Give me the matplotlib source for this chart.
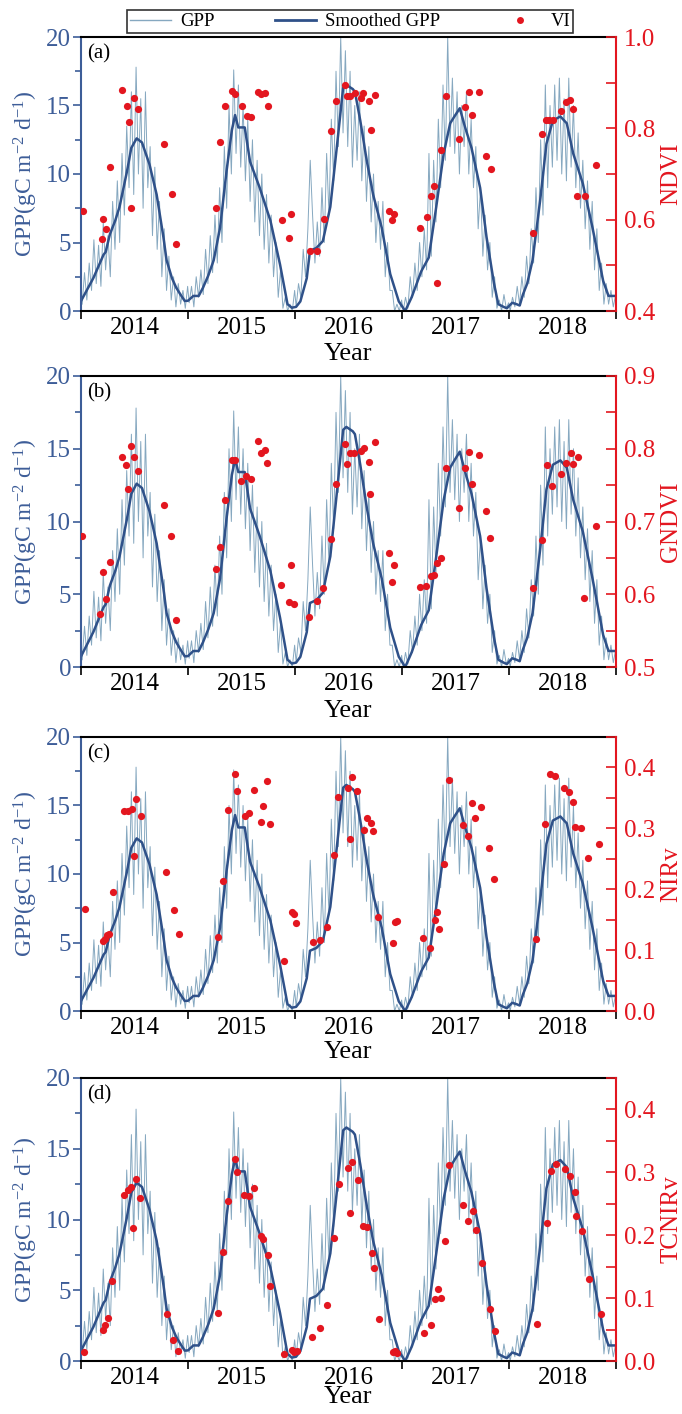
import numpy as np
import matplotlib
matplotlib.use('Agg')
import matplotlib.pyplot as plt
from matplotlib.ticker import MultipleLocator, FormatStrFormatter
from matplotlib.lines import Line2D

plt.rcParams['font.family'] = ['Liberation Serif', 'DejaVu Serif']
plt.rcParams['mathtext.fontset'] = 'custom'
plt.rcParams['mathtext.rm'] = 'Liberation Serif'
plt.rcParams['mathtext.it'] = 'Liberation Serif:italic'

# ---------------- data ----------------
years = [2014, 2015, 2016, 2017, 2018]
year_labels = ['2014', '2015', '2016', '2017', '2018']

# raw GPP, 8-day steps, 46 values per year
gpp_raw_2014 = [0.5, 2.8, 0.8, 3.5, 1.5, 5.2, 2.0, 4.8, 1.8, 6.5, 3.0,
                5.5, 2.5, 8.0, 4.5, 9.5, 5.0, 11.5, 7.0, 13.5, 9.0,
                16.0, 8.5, 17.8, 10.0, 15.5, 7.5, 16.0, 9.0, 12.0, 5.5,
                10.5, 4.5, 8.0, 2.5, 6.0, 1.5, 4.0, 0.8, 2.5, 0.3,
                2.0, 0.5, 1.5, 0.2, 1.8]
gpp_raw_2015 = [0.6, 1.8, 0.3, 2.5, 1.0, 3.0, 1.2, 4.5, 2.0, 5.5, 2.8,
                7.0, 3.5, 9.0, 5.0, 12.0, 7.5, 15.0, 10.0, 17.6, 11.5,
                16.5, 10.5, 15.0, 9.5, 14.0, 8.0, 12.5, 6.5, 11.0, 5.5,
                10.0, 4.5, 8.5, 3.5, 7.0, 2.5, 5.0, 1.0, 3.0, 0.2,
                1.0, 0.0, 0.5, 0.0, 1.5]
gpp_raw_2016 = [0.3, 2.0, 1.0, 4.5, 2.5, 6.0, 11.0, 7.0, 3.5, 6.5, 4.0,
                9.0, 5.0, 11.5, 7.0, 14.0, 9.5, 17.5, 12.0, 20.0, 13.0,
                19.0, 12.0, 17.5, 10.5, 15.0, 11.0, 16.0, 9.5, 13.5, 8.0,
                12.0, 6.5, 10.0, 5.0, 8.0, 4.5, 8.0, 2.5, 5.0, 1.5,
                1.5, 0.0, 0.5, 0.0, 0.8]
gpp_raw_2017 = [0.0, 1.0, 0.2, 2.5, 1.0, 3.5, 1.5, 5.0, 2.5, 6.0, 3.0,
                11.5, 4.0, 11.0, 6.5, 14.0, 9.0, 16.5, 11.0, 20.0, 12.0,
                17.0, 11.5, 16.0, 10.0, 15.0, 12.0, 16.0, 10.0, 14.0, 9.0,
                12.0, 6.0, 9.0, 4.0, 7.0, 3.0, 5.0, 1.0, 2.5, 0.2,
                0.8, 0.0, 1.2, 0.2, 0.6]
gpp_raw_2018 = [0.0, 1.0, 0.3, 1.8, 0.5, 2.5, 1.0, 4.0, 2.0, 6.0, 3.5,
                9.0, 5.0, 12.5, 7.0, 16.5, 9.0, 15.0, 10.5, 16.5, 11.0,
                17.0, 10.0, 15.5, 9.5, 17.0, 10.5, 15.0, 9.0, 13.0, 7.5,
                11.0, 6.0, 9.5, 4.5, 8.0, 3.0, 6.0, 1.5, 3.5, 0.5,
                2.0, 0.5, 1.5, 0.3, 1.2]
gpp_raw_by_year = [gpp_raw_2014, gpp_raw_2015, gpp_raw_2016, gpp_raw_2017, gpp_raw_2018]

# smoothed GPP (decimal year, value)
smooth_t = [2014.00, 2014.06, 2014.115, 2014.16, 2014.21, 2014.23, 2014.27, 2014.32, 2014.36,
            2014.43, 2014.47, 2014.52, 2014.57, 2014.64, 2014.707, 2014.77, 2014.80, 2014.85,
            2014.89, 2014.93, 2014.97, 2015.00, 2015.05, 2015.10, 2015.14, 2015.19, 2015.24,
            2015.30, 2015.36, 2015.41, 2015.44, 2015.47, 2015.53, 2015.58, 2015.67, 2015.77,
            2015.86, 2015.93, 2015.97, 2016.01, 2016.05, 2016.11, 2016.14, 2016.20, 2016.26,
            2016.33, 2016.39, 2016.45, 2016.48, 2016.54, 2016.56, 2016.61, 2016.67, 2016.73,
            2016.81, 2016.89, 2016.97, 2017.03, 2017.09, 2017.18, 2017.25, 2017.32, 2017.39,
            2017.45, 2017.49, 2017.54, 2017.59, 2017.65, 2017.73, 2017.79, 2017.86, 2017.90,
            2017.95, 2017.98, 2018.03, 2018.07, 2018.10, 2018.13, 2018.17, 2018.22, 2018.29,
            2018.35, 2018.41, 2018.48, 2018.54, 2018.60, 2018.69, 2018.78, 2018.88, 2018.93,
            2018.97, 2019.00]
smooth_gpp = [0.73, 1.6, 2.4, 3.2, 4.1, 4.3, 5.6, 6.6, 7.6,
              10.2, 11.9, 12.6, 12.3, 10.7, 8.5, 5.4, 3.7, 2.4,
              1.7, 1.2, 0.73, 0.75, 1.1, 1.1, 1.7, 2.6, 3.7,
              6.1, 10.2, 13.2, 14.3, 13.4, 13.4, 10.9, 9.0, 6.6,
              3.4, 0.5, 0.24, 0.3, 0.7, 2.4, 4.4, 4.6, 5.1,
              7.6, 11.9, 16.3, 16.5, 16.2, 16.0, 13.9, 11.0, 8.5,
              6.1, 2.7, 0.7, 0.0, 1.0, 2.9, 3.9, 7.6, 11.5,
              13.7, 14.2, 14.8, 13.4, 11.9, 9.0, 5.4, 2.0, 0.5,
              0.3, 0.2, 0.6, 0.5, 0.4, 1.2, 2.0, 3.7, 8.0,
              12.2, 13.9, 14.2, 13.7, 11.5, 9.3, 6.1, 2.2, 1.1,
              1.1, 1.1]

# (a) NDVI
ndvi_t = [2014.016, 2014.193, 2014.203, 2014.231, 2014.271, 2014.380, 2014.427, 2014.451,
          2014.467, 2014.495, 2014.536, 2014.776, 2014.850, 2014.888, 2015.262, 2015.299,
          2015.349, 2015.414, 2015.436, 2015.505, 2015.549, 2015.589, 2015.651, 2015.682,
          2015.720, 2015.745, 2015.876, 2015.941, 2015.960, 2016.137, 2016.203, 2016.271,
          2016.336, 2016.380, 2016.464, 2016.483, 2016.514, 2016.561, 2016.614, 2016.638,
          2016.692, 2016.707, 2016.748, 2016.879, 2016.904, 2016.928, 2017.168, 2017.236,
          2017.274, 2017.299, 2017.324, 2017.364, 2017.411, 2017.536, 2017.589, 2017.629,
          2017.654, 2017.722, 2017.782, 2017.829, 2018.221, 2018.308, 2018.346, 2018.377,
          2018.408, 2018.483, 2018.533, 2018.570, 2018.595, 2018.638, 2018.710, 2018.813]
ndvi = [0.618, 0.557, 0.601, 0.579, 0.715, 0.884, 0.848, 0.813,
        0.625, 0.866, 0.843, 0.766, 0.657, 0.546, 0.625, 0.769,
        0.848, 0.881, 0.876, 0.848, 0.828, 0.824, 0.880, 0.875,
        0.878, 0.848, 0.600, 0.560, 0.612, 0.532, 0.532, 0.601,
        0.795, 0.859, 0.895, 0.870, 0.870, 0.877, 0.867, 0.877,
        0.859, 0.797, 0.874, 0.619, 0.599, 0.612, 0.581, 0.605,
        0.651, 0.673, 0.461, 0.753, 0.870, 0.777, 0.846, 0.879,
        0.830, 0.879, 0.740, 0.710, 0.570, 0.787, 0.819, 0.819,
        0.819, 0.837, 0.857, 0.863, 0.843, 0.652, 0.652, 0.720]

# (b) GNDVI
gndvi_t = [2014.012, 2014.180, 2014.208, 2014.231, 2014.271, 2014.380, 2014.421, 2014.442,
           2014.467, 2014.495, 2014.536, 2014.773, 2014.841, 2014.891, 2015.262, 2015.302,
           2015.346, 2015.414, 2015.439, 2015.495, 2015.545, 2015.589, 2015.651, 2015.682,
           2015.720, 2015.738, 2015.869, 2015.941, 2015.960, 2015.988, 2016.134, 2016.206,
           2016.264, 2016.336, 2016.380, 2016.470, 2016.483, 2016.514, 2016.554, 2016.614,
           2016.645, 2016.689, 2016.704, 2016.748, 2016.879, 2016.922, 2016.907, 2017.165,
           2017.227, 2017.274, 2017.296, 2017.324, 2017.364, 2017.408, 2017.536, 2017.586,
           2017.626, 2017.651, 2017.720, 2017.785, 2017.825, 2018.221, 2018.308, 2018.352,
           2018.402, 2018.483, 2018.530, 2018.577, 2018.595, 2018.642, 2018.704, 2018.813]
gndvi = [0.680, 0.573, 0.631, 0.593, 0.645, 0.788, 0.777, 0.744,
         0.804, 0.788, 0.770, 0.722, 0.680, 0.565, 0.635, 0.665,
         0.730, 0.784, 0.784, 0.755, 0.762, 0.758, 0.810, 0.794,
         0.798, 0.781, 0.613, 0.589, 0.640, 0.587, 0.569, 0.591,
         0.609, 0.676, 0.751, 0.807, 0.779, 0.794, 0.794, 0.797,
         0.801, 0.782, 0.738, 0.809, 0.657, 0.640, 0.617, 0.610,
         0.612, 0.625, 0.627, 0.643, 0.650, 0.773, 0.718, 0.774,
         0.795, 0.752, 0.792, 0.715, 0.678, 0.608, 0.675, 0.777,
         0.749, 0.765, 0.781, 0.794, 0.779, 0.788, 0.595, 0.694]

# (c) NIRv
nirv_t = [2014.037, 2014.206, 2014.224, 2014.246, 2014.262, 2014.299, 2014.402, 2014.442,
          2014.474, 2014.517, 2014.495, 2014.561, 2014.797, 2014.869, 2014.916, 2015.283,
          2015.324, 2015.374, 2015.439, 2015.458, 2015.533, 2015.570, 2015.614, 2015.679,
          2015.701, 2015.741, 2015.769, 2015.900, 2015.969, 2015.988, 2016.012, 2016.165,
          2016.234, 2016.299, 2016.362, 2016.405, 2016.493, 2016.514, 2016.536, 2016.582,
          2016.648, 2016.670, 2016.713, 2016.732, 2016.779, 2016.913, 2016.935, 2016.956,
          2017.196, 2017.262, 2017.306, 2017.330, 2017.349, 2017.396, 2017.439, 2017.567,
          2017.614, 2017.657, 2017.682, 2017.741, 2017.813, 2017.857, 2018.250, 2018.339,
          2018.383, 2018.430, 2018.511, 2018.564, 2018.601, 2018.620, 2018.673, 2018.736,
          2018.841]
nirv = [0.168, 0.115, 0.119, 0.124, 0.127, 0.196, 0.328, 0.328,
        0.331, 0.348, 0.254, 0.320, 0.229, 0.166, 0.126, 0.121,
        0.214, 0.330, 0.389, 0.361, 0.321, 0.326, 0.363, 0.311,
        0.336, 0.377, 0.307, 0.082, 0.163, 0.159, 0.144, 0.114,
        0.116, 0.138, 0.256, 0.351, 0.367, 0.283, 0.384, 0.362,
        0.298, 0.317, 0.308, 0.295, 0.154, 0.111, 0.146, 0.147,
        0.120, 0.104, 0.149, 0.162, 0.135, 0.242, 0.379, 0.306,
        0.288, 0.342, 0.317, 0.335, 0.268, 0.217, 0.118, 0.307,
        0.390, 0.386, 0.367, 0.359, 0.344, 0.303, 0.300, 0.252,
        0.275]

# (d) TCNIRv
tcnirv_t = [2014.028, 2014.203, 2014.224, 2014.249, 2014.293, 2014.399, 2014.436, 2014.467,
            2014.514, 2014.489, 2014.554, 2014.801, 2014.860, 2014.907, 2015.283, 2015.327,
            2015.371, 2015.442, 2015.458, 2015.527, 2015.567, 2015.620, 2015.679, 2015.704,
            2015.748, 2015.769, 2015.900, 2015.969, 2015.991, 2016.016, 2016.162, 2016.234,
            2016.296, 2016.364, 2016.408, 2016.492, 2016.514, 2016.536, 2016.586, 2016.638,
            2016.673, 2016.717, 2016.738, 2016.782, 2016.913, 2016.935, 2016.956, 2017.202,
            2017.268, 2017.308, 2017.336, 2017.361, 2017.399, 2017.442, 2017.570, 2017.620,
            2017.664, 2017.692, 2017.751, 2017.820, 2017.869, 2018.262, 2018.352, 2018.396,
            2018.442, 2018.523, 2018.573, 2018.617, 2018.629, 2018.679, 2018.748, 2018.857]
tcnirv = [0.014, 0.049, 0.057, 0.068, 0.128, 0.264, 0.272, 0.276,
          0.289, 0.211, 0.259, 0.074, 0.033, 0.016, 0.076, 0.174,
          0.254, 0.321, 0.301, 0.264, 0.263, 0.275, 0.199, 0.194,
          0.168, 0.119, 0.011, 0.017, 0.014, 0.016, 0.038, 0.053,
          0.089, 0.196, 0.282, 0.307, 0.235, 0.316, 0.288, 0.214,
          0.213, 0.172, 0.148, 0.067, 0.014, 0.016, 0.012, 0.045,
          0.057, 0.099, 0.115, 0.100, 0.191, 0.312, 0.248, 0.223,
          0.239, 0.208, 0.156, 0.082, 0.048, 0.059, 0.220, 0.302,
          0.314, 0.305, 0.294, 0.268, 0.230, 0.207, 0.131, 0.074]

# ---------------- style ----------------
W, H = 682, 1414
BLUE_DARK = '#2f5189'
BLUE_LIGHT = '#86a8c0'
BLUE_AX = '#3d5d98'
RED = '#e3161f'

raw_t = []
raw_v = []
for y, vals in zip(years, gpp_raw_by_year):
    for i, v in enumerate(vals):
        raw_t.append(y + (8 * i + 4) / 365.25)
        raw_v.append(v)

panels = [
    # label, name, t, v, ylim, major, minor, top_px, bottom_px, xlabel centre px
    ('(a)', 'NDVI', ndvi_t, ndvi, (0.4, 1.0), 0.2, 0.1, 37, 311, 355),
    ('(b)', 'GNDVI', gndvi_t, gndvi, (0.5, 0.9), 0.1, 0.05, 376, 667, 712),
    ('(c)', 'NIRv', nirv_t, nirv, (0.0, 0.45), 0.1, 0.05, 737, 1011, 1053),
    ('(d)', 'TCNIRv', tcnirv_t, tcnirv, (0.0, 0.45), 0.1, 0.05, 1078, 1361, 1398),
]

fig = plt.figure(figsize=(W / 100, H / 100), dpi=100)
x0_px, x1_px = 81, 616
aw = x1_px - x0_px

for lab, name, vt, vv, ylim, major, minor, top, bot, xl in panels:
    ah = bot - top
    ax = fig.add_axes([x0_px / W, 1 - bot / H, aw / W, ah / H])
    ax.plot(raw_t, raw_v, color=BLUE_LIGHT, lw=0.7, zorder=1)
    ax.plot(smooth_t, smooth_gpp, color=BLUE_DARK, lw=1.8, zorder=2)
    ax.set_xlim(2014, 2019)
    ax.set_ylim(0, 20)
    ax.yaxis.set_major_locator(MultipleLocator(5))
    ax.yaxis.set_minor_locator(MultipleLocator(2.5))
    ax.tick_params(axis='y', which='major', direction='out', length=6, width=1.2,
                   color=BLUE_AX, labelcolor=BLUE_AX, labelsize=18, pad=1)
    ax.tick_params(axis='y', which='minor', direction='out', length=4, width=1.2, color=BLUE_AX)
    ax.set_xticks([2014, 2015, 2016, 2017, 2018, 2019])
    ax.set_xticklabels([''] * 6)
    ax.set_xticks([y + 0.5 for y in years], minor=True)
    ax.set_xticklabels(year_labels, minor=True)
    ax.tick_params(axis='x', which='major', direction='out', length=6, width=1.2, color='black')
    ax.tick_params(axis='x', which='minor', length=0, labelsize=18, pad=4)
    for s in ['top', 'bottom']:
        ax.spines[s].set_color('black')
        ax.spines[s].set_linewidth(1.5)
    ax.spines['left'].set_color(BLUE_AX)
    ax.spines['left'].set_linewidth(1.5)
    ax.spines['right'].set_visible(False)
    ax.set_ylabel(r'GPP(gC m$^{\mathregular{-2}}$ d$^{\mathregular{-1}}$)', color=BLUE_AX, fontsize=17)
    # right edge of rotated label (its text bottom) at ~40 px
    ax.yaxis.set_label_coords((40 - x0_px) / aw, 0.5)
    ax.set_xlabel('Year', fontsize=19)
    # top of "Year" text about 12 px above its centre
    ax.xaxis.set_label_coords(0.5, -(xl - 12 - bot) / ah)
    ax.text(0.012, 0.975, lab, transform=ax.transAxes, ha='left', va='top', fontsize=15)

    ax2 = ax.twinx()
    ax2.plot(vt, vv, 'o', color=RED, markersize=5.2, markeredgewidth=0, zorder=3)
    ax2.set_ylim(*ylim)
    ax2.yaxis.set_major_locator(MultipleLocator(major))
    ax2.yaxis.set_minor_locator(MultipleLocator(minor))
    ax2.yaxis.set_major_formatter(FormatStrFormatter('%.1f'))
    ax2.tick_params(axis='y', which='major', direction='in', length=7, width=1.2,
                    color=RED, labelcolor=RED, labelsize=18, pad=6)
    ax2.tick_params(axis='y', which='minor', direction='in', length=7, width=1.2, color=RED)
    for s in ['left', 'top', 'bottom']:
        ax2.spines[s].set_visible(False)
    ax2.spines['right'].set_color(RED)
    ax2.spines['right'].set_linewidth(1.5)
    ax2.set_ylabel(name, color=RED, fontsize=18, rotation=90)
    # left edge of rotated label at ~660 px
    ax2.yaxis.set_label_coords((660 - x0_px) / aw, 0.5)

handles = [Line2D([], [], color=BLUE_LIGHT, lw=1.0),
           Line2D([], [], color=BLUE_DARK, lw=2.0),
           Line2D([], [], color=RED, marker='o', ls='none', markersize=5, markeredgewidth=0)]
leg = fig.legend(handles, ['GPP', 'Smoothed GPP', 'VI'], ncol=3, mode='expand',
                 loc='lower left',
                 bbox_to_anchor=(127 / W, 1 - 33 / H, 446 / W, 25 / H),
                 fontsize=13.5, frameon=True, fancybox=False, edgecolor='black',
                 handlelength=2.2, borderpad=0.15, handletextpad=0.5, borderaxespad=0)
leg.get_frame().set_linewidth(1.2)

fig.savefig('out.png', dpi=100)
